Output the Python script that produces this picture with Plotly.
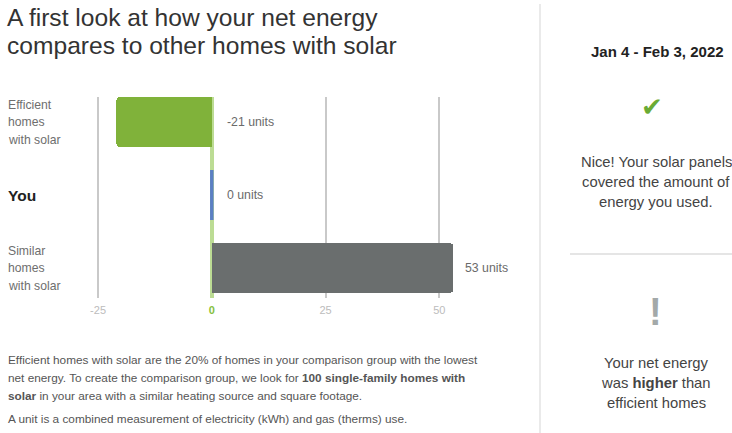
import plotly.graph_objects as go

W, H = 732, 433

# ---- data ----
categories = ["Efficient homes with solar", "You", "Similar homes with solar"]
cat_lines = [["Efficient", "homes", "with solar"], ["You"], ["Similar", "homes", "with solar"]]
net_units = [-21, 0, 53]
bar_colors = ["#80b23a", "#5b7fc4", "#6a6e6e"]
tick_vals = [-25, 0, 25, 50]
tick_text = ["-25", "<b><span style='color:#86bf3e'>0</span></b>", "25", "50"]

title_lines = ["A first look at how your net energy", "compares to other homes with solar"]
period = "Jan 4 - Feb 3, 2022"
nice_lines = ["Nice! Your solar panels", "covered the amount of", "energy you used."]
compare_lines = ["Your net energy", "was <b>higher</b> than", "efficient homes"]
note_lines = [
    "Efficient homes with solar are the 20% of homes in your comparison group with the lowest",
    "net energy. To create the comparison group, we look for <b>100 single-family homes with</b>",
    "<b>solar</b> in your area with a similar heating source and square footage.",
    "A unit is a combined measurement of electricity (kWh) and gas (therms) use.",
]

FONT = "Liberation Sans, Arial, Helvetica, sans-serif"


def px(x):
    return x / W


def py(y):
    return 1 - y / H


rows = list(range(len(categories)))

fig = go.Figure()

fig.add_trace(go.Bar(
    x=net_units,
    y=rows,
    orientation="h",
    width=0.685,
    marker=dict(color=bar_colors, cornerradius=4, line=dict(width=0)),
    hoverinfo="skip",
    showlegend=False,
))

# "You" sits at zero, so mark it with a thin vertical stroke
you_i = categories.index("You")
fig.add_trace(go.Scatter(
    x=[net_units[you_i], net_units[you_i]],
    y=[you_i - 0.3425, you_i + 0.3425],
    mode="lines",
    line=dict(color=bar_colors[you_i], width=3.5),
    hoverinfo="skip",
    showlegend=False,
))

annotations = []

# value labels
for i, v in enumerate(net_units):
    annotations.append(dict(
        x=max(v, 0), y=i, xref="x", yref="y", xanchor="left", yanchor="middle",
        xshift=10 if v > 0 else 13, showarrow=False,
        text=f"{v} units", font=dict(size=12.3, color="#6a6a6a", family=FONT),
    ))

# category labels
for i, lines in enumerate(cat_lines):
    if len(lines) == 1:
        annotations.append(dict(
            x=px(6), y=i, xref="paper", yref="y", xanchor="left", yanchor="middle",
            showarrow=False, text=f"<b>{lines[0]}</b>",
            font=dict(size=15.5, color="#222222", family=FONT),
        ))
    else:
        n = len(lines)
        for k, t in enumerate(lines):
            annotations.append(dict(
                x=px(6), y=i, xref="paper", yref="y", xanchor="left", yanchor="middle",
                yshift=-(k - (n - 1) / 2) * 17.5, showarrow=False, text=t,
                font=dict(size=12.2, color="#6e6e6e", family=FONT),
            ))


def text_block(lines, x, y0, step, size, color, anchor="left", weight=None):
    for k, t in enumerate(lines):
        txt = f"<b>{t}</b>" if weight == "bold" else t
        annotations.append(dict(
            x=px(x), y=py(y0 + k * step), xref="paper", yref="paper",
            xanchor=anchor, yanchor="middle", showarrow=False, text=txt,
            font=dict(size=size, color=color, family=FONT),
        ))


text_block(title_lines, 5, 18, 27.5, 24.6, "#333333")
text_block(note_lines[:3], 6, 360, 18, 11.8, "#555555")
text_block(note_lines[3:], 6, 419, 18, 11.8, "#555555")

# right-hand summary panel
text_block([period], 657, 52, 20, 15, "#222222", anchor="center", weight="bold")
annotations.append(dict(
    x=px(652), y=py(107), xref="paper", yref="paper", xanchor="center", yanchor="middle",
    showarrow=False, text="\u2714", font=dict(size=26, color="#6aab34", family="DejaVu Sans"),
))
text_block(nice_lines, 656, 162, 20, 14.8, "#444444", anchor="center")
annotations.append(dict(
    x=px(655), y=py(312), xref="paper", yref="paper", xanchor="center", yanchor="middle",
    showarrow=False, text="<b>!</b>", font=dict(size=38, color="#a3a9a9", family=FONT),
))
text_block(compare_lines, 656, 363, 20, 14.8, "#444444", anchor="center")

shapes = [
    dict(type="line", xref="paper", yref="paper", x0=px(540), x1=px(540), y0=0, y1=py(4),
         line=dict(color="#e3e3e3", width=1.5)),
    dict(type="line", xref="paper", yref="paper", x0=px(570), x1=1, y0=py(254), y1=py(254),
         line=dict(color="#dddddd", width=1.5)),
]

fig.update_layout(
    width=W, height=H, autosize=False,
    margin=dict(l=0, r=0, t=0, b=0),
    paper_bgcolor="white", plot_bgcolor="white",
    font=dict(family=FONT),
    bargap=0,
    annotations=annotations,
    shapes=shapes,
    xaxis=dict(
        domain=[px(75.3), px(484.8)], range=[-30, 60],
        tickmode="array", tickvals=tick_vals, ticktext=tick_text,
        showgrid=True, gridcolor="#c9c9c9", gridwidth=1.5,
        zeroline=True, zerolinecolor="#bcdc94", zerolinewidth=3.5,
        showline=False, ticks="", ticklabelstandoff=4,
        tickfont=dict(size=11, color="#bcbcbc", family=FONT),
        fixedrange=True,
    ),
    yaxis=dict(
        domain=[py(298), py(97)], range=[2.41, -0.3425],
        showgrid=False, zeroline=False, showticklabels=False, showline=False,
        fixedrange=True,
    ),
)

fig.write_html("out.html")
